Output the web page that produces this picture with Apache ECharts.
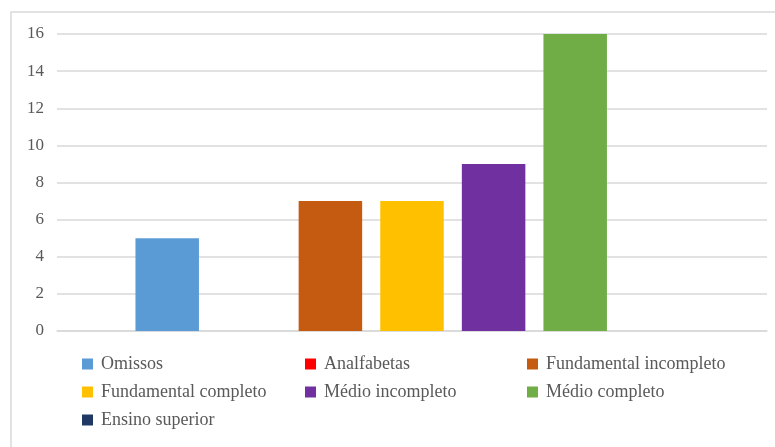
<!DOCTYPE html>
<html>
<head>
<meta charset="utf-8">
<script src="https://cdn.jsdelivr.net/npm/echarts@6/dist/echarts.min.js"></script>
<style>html,body{margin:0;padding:0;background:#fff;}#c{width:775px;height:447px;}</style>
</head>
<body>
<div id="c"></div>
<script>
const seriesNames = ['Omissos','Analfabetas','Fundamental incompleto','Fundamental completo','Médio incompleto','Médio completo','Ensino superior'];
const seriesValues = [5, 0, 7, 7, 9, 16, 0];
const seriesColors = ['#5B9BD5','#FF0000','#C55A11','#FFC000','#7030A0','#70AD47','#203864'];
const yTicks = [0, 2, 4, 6, 8, 10, 12, 14, 16];

const chart = echarts.init(document.getElementById('c'));
const font = '"Liberation Serif", "Times New Roman", serif';
const legendPos = [[82,355],[305,355],[527,355],[82,383],[305,383],[527,383],[82,411]];

const option = {
  animation: false,
  textStyle: { fontFamily: font },
  graphic: [{
    type: 'rect', shape: { x: 11, y: 12, width: 900, height: 600 },
    style: { fill: 'none', stroke: '#d9d9d9', lineWidth: 1.5 }, silent: true
  }],
  grid: { left: 57, right: 8, top: 34, bottom: 116 },
  legend: seriesNames.map((n, i) => ({
    data: [n], left: legendPos[i][0], top: legendPos[i][1],
    itemWidth: 11, itemHeight: 11, itemGap: 8, padding: 0,
    icon: 'rect', selectedMode: false,
    textStyle: { fontFamily: font, fontSize: 18, color: '#595959', padding: [2,0,0,3] }
  })),
  xAxis: {
    type: 'category', data: [''],
    axisLine: { show: true, lineStyle: { color: '#d9d9d9', width: 1.5 } },
    axisTick: { show: false }, axisLabel: { show: false }
  },
  yAxis: {
    type: 'value', min: yTicks[0], max: yTicks[yTicks.length-1], interval: 2,
    axisLine: { show: false }, axisTick: { show: false },
    axisLabel: { fontFamily: font, fontSize: 17, color: '#595959', margin: 13, padding: [3,0,0,0] },
    splitLine: { lineStyle: { color: '#d9d9d9', width: 1.5 } }
  },
  series: seriesNames.map((n, i) => ({
    name: n, type: 'bar', data: [seriesValues[i]],
    barWidth: 63.5, barGap: '28.5%',
    itemStyle: { color: seriesColors[i] }
  }))
};
chart.setOption(option);
</script>
</body>
</html>
